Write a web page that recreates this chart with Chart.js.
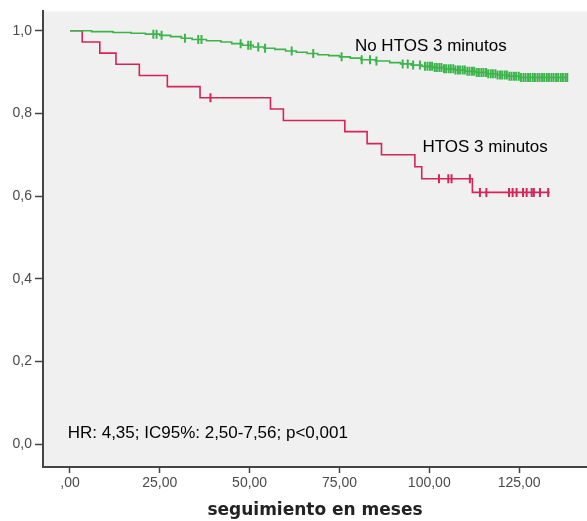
<!DOCTYPE html>
<html>
<head>
<meta charset="utf-8">
<script src="https://cdn.jsdelivr.net/npm/chart.js@4"></script>
<style>
  html, body { margin: 0; padding: 0; background: #fff; overflow: hidden; }
  canvas { display: block; }
</style>
</head>
<body>
<canvas id="km" width="587" height="521"></canvas>
<script>
// Kaplan-Meier: tiempos de evento (meses) y supervivencia
const noHtosTiempo = [0, 6, 12, 17, 21, 25, 28, 31, 34, 38, 42, 45, 48, 51, 54, 57, 60, 63, 66, 69,
  72, 75, 78, 81, 85, 89, 92, 95, 98, 101, 104, 107, 110, 113, 116, 119, 122, 125, 138.5];
const noHtosSuperv = [1.0, 0.998, 0.996, 0.994, 0.992, 0.989, 0.986, 0.982, 0.979, 0.976, 0.973, 0.969,
  0.965, 0.961, 0.958, 0.955, 0.951, 0.948, 0.945, 0.942, 0.940, 0.937, 0.934, 0.930, 0.927, 0.923,
  0.920, 0.917, 0.914, 0.911, 0.908, 0.905, 0.902, 0.899, 0.896, 0.893, 0.890, 0.887, 0.887];
const noHtosCensura = [23.2, 24.1, 25.5, 32.0, 35.7, 36.6, 47.5, 49.6, 50.3, 52.4, 54.3, 61.7, 67.7,
  75.6, 81.2, 83.5, 85.3, 92.6, 94.0, 95.5, 97.4, 98.8, 99.5, 100.2, 100.8, 101.5, 102.1, 102.8,
  103.4, 104.1, 104.7, 105.4, 106.0, 106.7, 107.3, 108.0, 108.6, 109.3, 109.9, 110.6, 111.2, 111.9,
  112.5, 113.2, 113.8, 114.5, 115.1, 115.8, 116.4, 117.1, 117.7, 118.4, 119.0, 119.7, 120.3, 121.0,
  121.6, 122.3, 122.9, 123.6, 124.2, 124.9, 125.5, 126.2, 126.8, 127.5, 128.1, 128.8, 129.4, 130.1,
  130.7, 131.4, 132.0, 132.7, 133.3, 134.0, 134.6, 135.3, 135.9, 136.6, 137.2, 137.9, 138.4];

const htosTiempo = [0, 3.4, 8.3, 12.8, 19.3, 27.1, 36.2, 55.8, 59.4, 76.5, 82.7, 86.7, 96.0, 97.9, 112.0, 133.5];
const htosSuperv = [1.0, 0.973, 0.946, 0.919, 0.892, 0.865, 0.838, 0.811, 0.783, 0.756, 0.727, 0.700,
  0.671, 0.642, 0.609, 0.609];
const htosCensura = [39.1, 102.7, 105.3, 106.2, 111.3, 114.1, 115.9, 122.2, 123.2, 124.3, 126.1,
  127.1, 128.5, 129.1, 130.8, 133.1];

const xTicks = [0, 25, 50, 75, 100, 125];
const xTickLabels = [",00", "25,00", "50,00", "75,00", "100,00", "125,00"];
const yTicks = [0, 0.2, 0.4, 0.6, 0.8, 1.0];
const yTickLabels = ["0,0", "0,2", "0,4", "0,6", "0,8", "1,0"];

const verde = "#3cb44b";
const rojo = "#d4245a";

function puntos(tiempos, superv) {
  return tiempos.map((t, i) => ({ x: t, y: superv[i] }));
}

// supervivencia en el momento de la censura (escalon anterior)
function censuras(cens, tiempos, superv) {
  return cens.map(t => {
    let s = superv[0];
    for (let i = 0; i < tiempos.length; i++) {
      if (tiempos[i] <= t) s = superv[i];
    }
    return { x: t, y: s };
  });
}

const fondoPlot = {
  id: "fondoPlot",
  beforeDraw(chart) {
    const { ctx, chartArea: a } = chart;
    ctx.save();
    ctx.fillStyle = "#f0f0f0";
    ctx.fillRect(a.left, a.top, a.right - a.left, a.bottom - a.top);
    ctx.restore();
  }
};

const textos = {
  id: "textos",
  afterDatasetsDraw(chart) {
    const { ctx, scales } = chart;
    const etiquetas = [
      { txt: "No HTOS 3 minutos", x: 79.3, y: 0.9505 },
      { txt: "HTOS 3 minutos", x: 98.1, y: 0.7076 },
      { txt: "HR: 4,35; IC95%: 2,50-7,56; p<0,001", x: -0.64, y: 0.0138 }
    ];
    ctx.save();
    ctx.fillStyle = "#000";
    ctx.font = "17px 'Liberation Sans', Arial, sans-serif";
    ctx.textAlign = "left";
    ctx.textBaseline = "alphabetic";
    etiquetas.forEach(e => {
      ctx.fillText(e.txt, scales.x.getPixelForValue(e.x), scales.y.getPixelForValue(e.y));
    });
    ctx.restore();
  }
};

const ctx = document.getElementById("km").getContext("2d");
new Chart(ctx, {
  type: "scatter",
  data: {
    datasets: [
      {
        label: "No HTOS 3 minutos",
        data: puntos(noHtosTiempo, noHtosSuperv),
        showLine: true,
        stepped: "before",
        borderColor: verde,
        borderWidth: 1.6,
        pointRadius: 0
      },
      {
        label: "HTOS 3 minutos",
        data: puntos(htosTiempo, htosSuperv),
        showLine: true,
        stepped: "before",
        borderColor: rojo,
        borderWidth: 1.6,
        pointRadius: 0
      },
      {
        label: "No HTOS censurado",
        data: censuras(noHtosCensura, noHtosTiempo, noHtosSuperv),
        showLine: false,
        pointStyle: "line",
        rotation: 90,
        pointRadius: 4.5,
        borderColor: verde,
        borderWidth: 2
      },
      {
        label: "HTOS censurado",
        data: censuras(htosCensura, htosTiempo, htosSuperv),
        showLine: false,
        pointStyle: "line",
        rotation: 90,
        pointRadius: 4.5,
        borderColor: rojo,
        borderWidth: 2
      }
    ]
  },
  options: {
    responsive: false,
    animation: false,
    layout: { autoPadding: false, padding: { top: 10, right: 0, bottom: 0, left: 0 } },
    plugins: {
      legend: { display: false },
      tooltip: { enabled: false }
    },
    scales: {
      x: {
        type: "linear",
        min: -7.51,
        max: 143.9,
        afterBuildTicks: s => { s.ticks = xTicks.map(v => ({ value: v })); },
        afterFit: s => { s.height = 54; },
        ticks: {
          callback: (v, i) => xTickLabels[i],
          font: { family: "'Liberation Sans', Arial, sans-serif", size: 14 },
          color: "#4a4a4a",
          padding: 2,
          maxRotation: 0,
          autoSkip: false
        },
        grid: { drawOnChartArea: false, drawTicks: true, tickLength: 6, tickColor: "#444", tickWidth: 1.5 },
        border: { display: true, color: "#444", width: 2 },
        title: {
          display: true,
          text: "seguimiento en meses",
          color: "#222",
          font: { family: "'DejaVu Sans', Verdana, sans-serif", size: 17, weight: "bold" },
          padding: { top: 0, bottom: 0 }
        }
      },
      y: {
        type: "linear",
        min: -0.0555,
        max: 1.047,
        afterBuildTicks: s => { s.ticks = yTicks.map(v => ({ value: v })); },
        afterFit: s => { s.width = 43; },
        ticks: {
          callback: (v, i) => yTickLabels[i],
          font: { family: "'Liberation Sans', Arial, sans-serif", size: 14 },
          color: "#4a4a4a",
          padding: 3,
          autoSkip: false
        },
        grid: { drawOnChartArea: false, drawTicks: true, tickLength: 8, tickColor: "#444", tickWidth: 1.5 },
        border: { display: true, color: "#444", width: 2 }
      }
    }
  },
  plugins: [fondoPlot, textos]
});
</script>
</body>
</html>
